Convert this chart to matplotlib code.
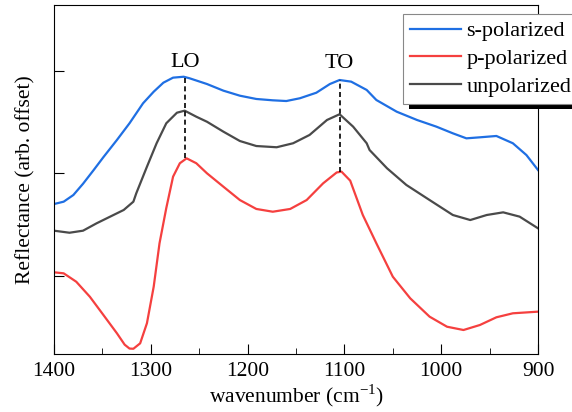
import matplotlib
matplotlib.use("Agg")
import matplotlib.pyplot as plt
from matplotlib.patches import Rectangle
from matplotlib.ticker import MultipleLocator

plt.rcParams["font.family"] = ["Liberation Serif", "DejaVu Serif"]
plt.rcParams["mathtext.fontset"] = "custom"
plt.rcParams["mathtext.rm"] = "Liberation Serif"

# s-polarized
wn_s = [1400, 1390, 1380, 1370, 1359, 1349, 1335, 1322, 1308, 1297, 1287, 1277, 1266,
        1260, 1242, 1225, 1208, 1191, 1174, 1160, 1146, 1129, 1115, 1105, 1093, 1077,
        1067, 1046, 1025, 1005, 988, 974, 960, 943, 926, 912, 900]
r_s = [1.702, 1.725, 1.790, 1.900, 2.034, 2.159, 2.327, 2.490, 2.685, 2.798, 2.886, 2.935, 2.944,
       2.929, 2.873, 2.808, 2.759, 2.727, 2.714, 2.707, 2.734, 2.788, 2.873, 2.912, 2.896, 2.815,
       2.717, 2.603, 2.522, 2.457, 2.392, 2.343, 2.353, 2.366, 2.295, 2.180, 2.034]

# p-polarized
wn_p = [1400, 1390, 1377, 1363, 1349, 1335, 1327, 1322, 1318, 1311, 1304, 1297, 1291, 1284,
        1277, 1270, 1263, 1253, 1242, 1225, 1208, 1191, 1174, 1156, 1139, 1122, 1108,
        1103, 1094, 1081, 1067, 1050, 1032, 1012, 994, 977, 960, 943, 926, 900]
r_p = [1.036, 1.026, 0.944, 0.798, 0.620, 0.441, 0.330, 0.292, 0.290, 0.343, 0.539, 0.896, 1.319,
       1.663, 1.969, 2.100, 2.148, 2.100, 2.002, 1.871, 1.741, 1.654, 1.627, 1.654, 1.741, 1.904,
       2.010, 2.018, 1.930, 1.595, 1.319, 0.993, 0.782, 0.603, 0.505, 0.473, 0.522, 0.597, 0.636,
       0.652]

# unpolarized
wn_u = [1400, 1384, 1370, 1356, 1342, 1328, 1318, 1315, 1304, 1294, 1284, 1273, 1265,
        1253, 1242, 1225, 1208, 1191, 1170, 1153, 1136, 1118, 1105, 1091, 1077, 1074,
        1056, 1036, 1012, 988, 970, 953, 936, 919, 900]
r_u = [1.442, 1.422, 1.442, 1.514, 1.579, 1.644, 1.725, 1.807, 2.066, 2.295, 2.490, 2.593, 2.613,
       2.554, 2.505, 2.408, 2.317, 2.268, 2.256, 2.295, 2.376, 2.522, 2.578, 2.457, 2.295, 2.229,
       2.051, 1.888, 1.741, 1.595, 1.546, 1.595, 1.621, 1.579, 1.465]

# LO / TO guide lines
modes = ["LO", "TO"]
mode_wn = [1265, 1105]
mode_top = [2.944, 2.912]
mode_bot = [2.148, 2.018]
label_y = [3.04, 3.03]

fig = plt.figure(figsize=(5.72, 4.12), dpi=100)
ax = fig.add_axes([0.0944, 0.1408, 0.8462, 0.8471])

ax.plot(wn_s, r_s, color="#1f6fe3", lw=1.6, label="s-polarized")
ax.plot(wn_p, r_p, color="#f5403f", lw=1.6, label="p-polarized")
ax.plot(wn_u, r_u, color="#4a4a4a", lw=1.6, label="unpolarized")

for name, w, t, b, ly in zip(modes, mode_wn, mode_top, mode_bot, label_y):
    ax.plot([w, w], [b, t], color="black", lw=1.2, ls=(0, (3, 2)))
    ax.text(w, ly, name, ha="center", va="baseline", fontsize=16)

ax.set_xlim(1400, 900)
ax.set_ylim(0.239, 3.644)
ax.xaxis.set_major_locator(MultipleLocator(100))
ax.xaxis.set_minor_locator(MultipleLocator(50))
ax.set_yticks([1, 2, 3])
ax.set_yticklabels([])
ax.tick_params(which="both", direction="in", labelsize=15.5)
ax.tick_params(which="major", length=7)
ax.tick_params(which="minor", length=4)
ax.tick_params(axis="x", pad=6)
ax.set_xlabel(r"wavenumber (cm$^{\mathregular{-1}}$)", fontsize=15.5, labelpad=1)
ax.set_ylabel("Reflectance (arb. offset)", fontsize=15.5, labelpad=10)

leg = ax.legend(loc="upper left", bbox_to_anchor=(0.721, 0.974), borderaxespad=0,
                fontsize=16, handlelength=2.3, fancybox=False, framealpha=1,
                edgecolor="#888888", labelspacing=0.33, borderpad=0.3,
                handletextpad=0.25)
leg.get_frame().set_linewidth(0.8)
leg.set_zorder(10)

# solid black drop shadow like the original
fig.canvas.draw()
bb = leg.get_frame().get_window_extent(fig.canvas.get_renderer())
shadow = Rectangle((bb.x0 + 6, bb.y0 - 5), bb.width, bb.height, transform=None,
                   facecolor="black", edgecolor="none", zorder=9, clip_on=False)
ax.add_artist(shadow)

fig.savefig("out.png", dpi=100)
